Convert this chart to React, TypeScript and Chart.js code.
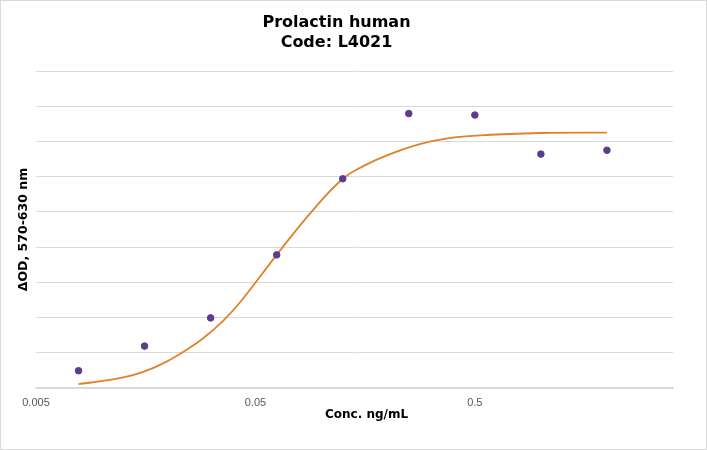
import React, { useEffect, useRef } from "react";
import { Chart, registerables } from "chart.js";

Chart.register(...registerables);

const TITLE_LINES = ["Prolactin human", "Code: L4021"];
const X_TITLE = "Conc. ng/mL";
const Y_TITLE = "ΔOD, 570-630 nm";

// measured points (concentration ng/mL, ΔOD in grid units)
const concentrations = [0.0078125, 0.015625, 0.03125, 0.0625, 0.125, 0.25, 0.5, 1, 2];
const odValues = [0.49, 1.19, 1.99, 3.78, 5.94, 7.79, 7.75, 6.64, 6.75];

// fitted curve
const curveX = [0.0078125, 0.0101, 0.0125, 0.0154, 0.019, 0.0235, 0.029, 0.0358, 0.0434, 0.0625, 0.0888, 0.125, 0.155, 0.2055, 0.292, 0.414, 0.587, 1, 2];
const curveY = [0.11, 0.2, 0.3, 0.46, 0.7, 1.03, 1.42, 1.92, 2.5, 3.78, 4.96, 5.94, 6.3, 6.64, 6.95, 7.12, 7.19, 7.24, 7.25];

const xTickValues = [0.005, 0.05, 0.5];
const X_MIN = 0.005;
const X_MAX = 4;
const Y_MIN = 0;
const Y_MAX = 9;

const frame = {
  id: "frame",
  afterDraw(chart: any) {
    const ctx = chart.ctx;
    const a = chart.chartArea;
    ctx.save();
    ctx.strokeStyle = "#d9d9d9";
    ctx.lineWidth = 1;
    ctx.strokeRect(0.5, 0.5, chart.width - 1, chart.height - 1);
    // x-axis title (slightly right of the plot centre, as in the reference)
    ctx.fillStyle = "#000";
    ctx.font = "bold 12px 'DejaVu Sans'";
    ctx.textAlign = "center";
    ctx.textBaseline = "middle";
    ctx.fillText(X_TITLE, (a.left + a.right) / 2 + 12, a.bottom + 27);
    ctx.restore();
  },
};

export default function App() {
  const ref = useRef<HTMLCanvasElement>(null);
  useEffect(() => {
    document.body.style.margin = "0";
    const chart = new Chart(ref.current!, {
      type: "scatter",
      data: {
        datasets: [
          {
            type: "scatter",
            label: "data",
            data: concentrations.map((x, i) => ({ x, y: odValues[i] })),
            backgroundColor: "#5e3c8c",
            borderColor: "#5e3c8c",
            pointRadius: 3.3,
            order: 0,
          },
          {
            type: "line",
            label: "fit",
            data: curveX.map((x, i) => ({ x, y: curveY[i] })),
            borderColor: "#e0812c",
            borderWidth: 1.8,
            pointRadius: 0,
            tension: 0.4,
            fill: false,
            order: 1,
          } as any,
        ],
      },
      options: {
        animation: false,
        responsive: false,
        devicePixelRatio: 1,
        layout: { padding: { left: 0, right: 34, top: 0, bottom: 0 } },
        plugins: {
          legend: { display: false },
          tooltip: { enabled: false },
          title: {
            display: true,
            text: TITLE_LINES,
            color: "#000",
            font: { family: "DejaVu Sans", size: 16, weight: "bold", lineHeight: 1.25 },
            padding: { top: 13, bottom: 18 },
          },
        },
        scales: {
          x: {
            type: "logarithmic",
            min: X_MIN,
            max: X_MAX,
            afterBuildTicks: (scale: any) => {
              scale.ticks = xTickValues.map((v) => ({ value: v }));
            },
            afterFit: (scale: any) => {
              scale.height = 62;
            },
            grid: { display: false, drawTicks: false },
            border: { display: true, color: "#d9d9d9", width: 1.5 },
            ticks: {
              color: "#595959",
              padding: 8,
              maxRotation: 0,
              autoSkip: false,
              font: { family: "Liberation Sans", size: 11 },
              callback: (v: any) => String(v),
            },
            title: { display: false, text: X_TITLE },
          },
          y: {
            min: Y_MIN,
            max: Y_MAX,
            afterFit: (scale: any) => {
              scale.width = 36;
            },
            ticks: { display: false, stepSize: 1 },
            grid: { color: "#d9d9d9", lineWidth: 1, drawTicks: false },
            border: { display: false },
            title: {
              display: true,
              text: Y_TITLE,
              color: "#000",
              font: { family: "DejaVu Sans", size: 12.5, weight: "bold" },
              padding: { top: 16, bottom: 0 },
            },
          },
        },
      },
      plugins: [frame],
    });
    return () => chart.destroy();
  }, []);
  return (
    <div style={{ position: "absolute", left: 0, top: 0, width: 707, height: 450, background: "#fff" }}>
      <canvas ref={ref} width={707} height={450} style={{ width: 707, height: 450, display: "block" }} />
    </div>
  );
}
